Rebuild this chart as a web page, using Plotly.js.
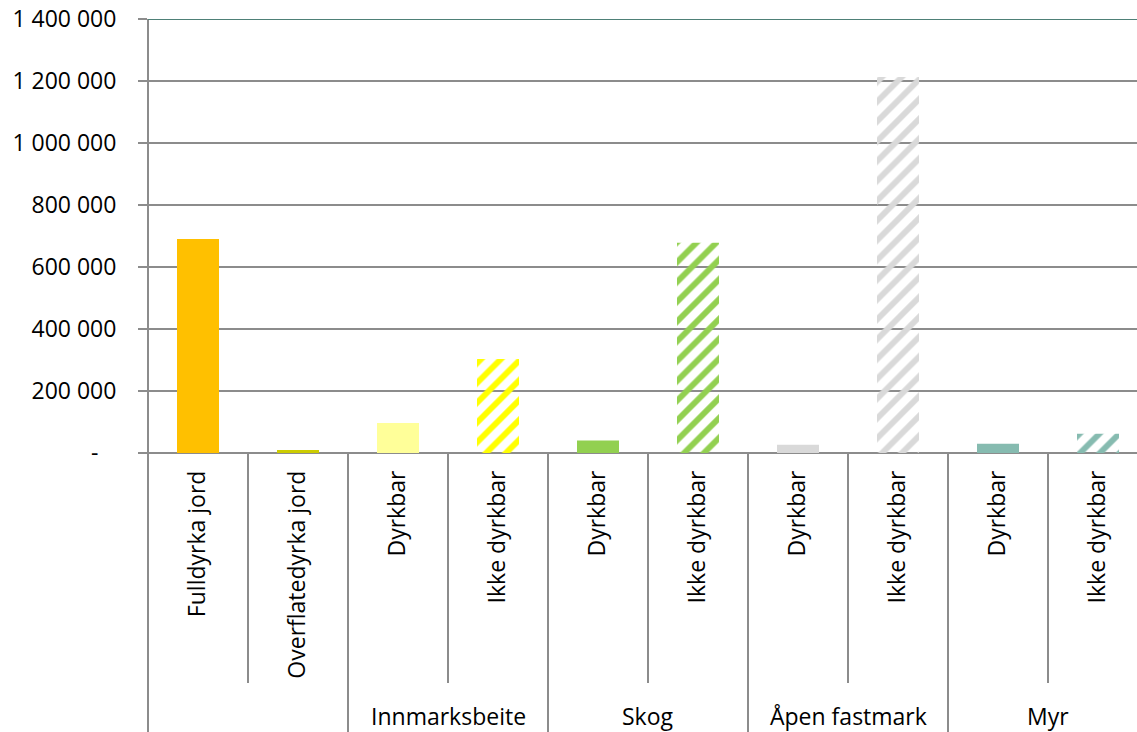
<!DOCTYPE html>
<html><head><meta charset="utf-8">
<script src="https://cdn.plot.ly/plotly-3.0.1.min.js"></script>
<style>html,body{margin:0;padding:0;background:#fff;overflow:hidden}#chart{width:1137px;height:732px}</style>
</head><body><div id="chart"></div>
<script>
// ---- data ----
const groups = ["", "Innmarksbeite", "Skog", "Åpen fastmark", "Myr"];
const categories = ["Fulldyrka jord", "Overflatedyrka jord", "Dyrkbar", "Ikke dyrkbar", "Dyrkbar", "Ikke dyrkbar", "Dyrkbar", "Ikke dyrkbar", "Dyrkbar", "Ikke dyrkbar"];
const categoryGroup = [0, 0, 1, 1, 2, 2, 3, 3, 4, 4];
const values = [690000, 10000, 97000, 303000, 40000, 678000, 26500, 1213000, 30000, 62000];
const yTickValues = [0, 200000, 400000, 600000, 800000, 1000000, 1200000, 1400000];
const yTickLabels = ["-\u00a0\u00a0\u00a0", "200 000", "400 000", "600 000", "800 000", "1 000 000", "1 200 000", "1 400 000"];
// ---- styles ----
const barColors = ["#ffc000", "#cccc00", "#ffff99", "#ffff00", "#92d050", "#92d050", "#d9d9d9", "#d9d9d9", "#86bbb0", "#86bbb0"];
const hatched = [false, false, false, true, false, true, false, true, false, true];

const FONT = "Open Sans, Liberation Sans, sans-serif";
const FS = 23;
const GRID = "#8c8c8c";
const idx = categories.map((_, i) => i);

const trace = {
  type: "bar",
  x: idx,
  y: values,
  width: 0.42,
  marker: {
    color: barColors,
    line: {width: 0},
    pattern: {
      shape: hatched.map(h => h ? "/" : ""),
      bgcolor: "white",
      size: 14,
      solidity: 0.42,
      fillmode: "replace"
    }
  },
  hoverinfo: "x+y"
};

// plot-area geometry helpers (paper coords)
const plotTop = 19, plotBottom = 453, H = 732;
const plotH = plotBottom - plotTop;
const py = p => (plotBottom - p) / plotH;

const shapes = [];
shapes.push({type: "line", xref: "paper", yref: "paper", x0: 0, x1: 0, y0: 1, y1: py(H), line: {color: GRID, width: 2}});
shapes.push({type: "line", xref: "paper", yref: "y", x0: 0, x1: 1, y0: yTickValues[yTickValues.length - 1], y1: yTickValues[yTickValues.length - 1], line: {color: "#4e8077", width: 2}});
for (let i = 0; i < categories.length - 1; i++) {
  const longDiv = categoryGroup[i] !== categoryGroup[i + 1];
  shapes.push({type: "line", xref: "x", yref: "paper", x0: i + 0.5, x1: i + 0.5, y0: 0, y1: longDiv ? py(H) : py(683), line: {color: GRID, width: 2}});
}
const annotations = [];
groups.forEach((g, gi) => {
  if (!g) return;
  const members = idx.filter(i => categoryGroup[i] === gi);
  const cx = (members[0] + members[members.length - 1]) / 2;
  annotations.push({x: cx, xref: "x", y: py(716), yref: "paper", text: g, showarrow: false, xanchor: "center", yanchor: "middle", borderpad: 0, font: {family: FONT, size: FS, color: "#000"}});
});

const layout = {
  width: 1137, height: 732,
  margin: {l: 148, r: 0, t: plotTop, b: H - plotBottom, pad: 0},
  paper_bgcolor: "white", plot_bgcolor: "white",
  showlegend: false,
  font: {family: FONT, size: FS, color: "#000"},
  xaxis: {
    range: [-0.5, 9.39],
    tickvals: idx, ticktext: categories, tickangle: -90,
    ticks: "", showgrid: false, zeroline: false, showline: false,
    ticklabelstandoff: 12,
    tickfont: {family: FONT, size: FS, color: "#000"},
    fixedrange: true
  },
  yaxis: {
    range: [0, 1400000],
    tickvals: yTickValues, ticktext: yTickLabels,
    showgrid: true, gridcolor: GRID, gridwidth: 2,
    ticks: "outside", ticklen: 9, tickwidth: 2, tickcolor: GRID,
    showline: false,
    zeroline: true, zerolinecolor: GRID, zerolinewidth: 2,
    ticklabelstandoff: 17,
    tickfont: {family: FONT, size: FS, color: "#000"},
    fixedrange: true
  },
  shapes: shapes,
  annotations: annotations
};

Plotly.newPlot("chart", [trace], layout, {displayModeBar: false, staticPlot: true});
</script>
</body></html>
